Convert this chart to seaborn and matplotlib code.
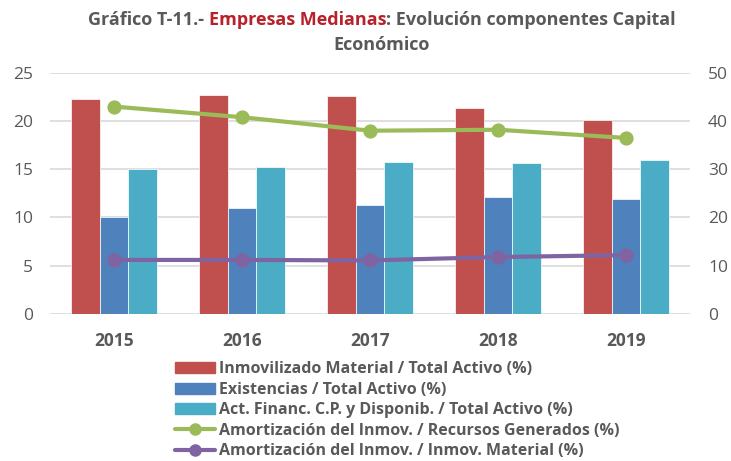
import matplotlib
matplotlib.use("Agg")
import matplotlib.pyplot as plt
import matplotlib.patches as mpatches
import matplotlib.lines as mlines
import seaborn as sns
import pandas as pd

# data
years = ["2015", "2016", "2017", "2018", "2019"]
inmovilizado = [22.3, 22.7, 22.6, 21.4, 20.1]
existencias = [10.1, 11.0, 11.3, 12.1, 11.9]
act_financ = [15.0, 15.2, 15.8, 15.6, 16.0]
amort_recursos = [43.0, 40.8, 38.0, 38.2, 36.5]
amort_inmov = [11.2, 11.2, 11.1, 11.8, 12.2]

bar_labels = [
    "Inmovilizado Material / Total Activo (%)",
    "Existencias / Total Activo (%)",
    "Act. Financ. C.P. y Disponib. / Total Activo (%)",
]
line_labels = [
    "Amortización del Inmov. / Recursos Generados (%)",
    "Amortización del Inmov. / Inmov. Material (%)",
]
bar_colors = ["#C0504D", "#4F81BD", "#4BACC6"]
line_colors = ["#9BBB59", "#8064A2"]
grey = "#595959"

bars = pd.DataFrame({"year": years * 3,
                     "serie": [l for l in bar_labels for _ in years],
                     "value": inmovilizado + existencias + act_financ})
lines = pd.DataFrame({"year": years * 2,
                      "serie": [l for l in line_labels for _ in years],
                      "value": amort_recursos + amort_inmov})

sns.set_style("white")
plt.rcParams["font.family"] = ["Open Sans", "DejaVu Sans"]

fig = plt.figure(figsize=(7.31, 4.61), dpi=100)
ax = fig.add_axes([0.0684, 0.319, 0.8756, 0.523])

sns.barplot(data=bars, x="year", y="value", hue="serie", palette=bar_colors,
            saturation=1, width=0.67, gap=0, edgecolor="white", linewidth=0.5,
            ax=ax, legend=False)
ax.set_ylim(0, 25)
ax.set_yticks(range(0, 26, 5))
ax.set_xlim(-0.5, 4.5)

ax2 = ax.twinx()
sns.pointplot(data=lines, x="year", y="value", hue="serie", palette=line_colors,
              markers="o", markersize=8, linewidth=3, ax=ax2, legend=False)
ax2.set_ylim(0, 50)
ax2.set_yticks(range(0, 51, 10))
ax2.set_xlim(-0.5, 4.5)

ax.set_axisbelow(True)
ax.yaxis.grid(True, color="#D9D9D9", linewidth=1.2)
for a in (ax, ax2):
    a.set_xlabel("")
    a.set_ylabel("")
    for s in a.spines.values():
        s.set_visible(False)
    a.tick_params(length=0, colors=grey, labelsize=12.5)
ax.tick_params(axis="y", pad=12)
ax2.tick_params(axis="y", pad=13)
ax.tick_params(axis="x", pad=13)
for t in ax.get_xticklabels():
    t.set_fontweight("bold")
    t.set_fontsize(12.5)

# legend
handles = [mpatches.Patch(color=c, label=l) for c, l in zip(bar_colors, bar_labels)]
handles += [mlines.Line2D([], [], color=c, lw=3, marker="o", markersize=8, label=l)
            for c, l in zip(line_colors, line_labels)]
leg = fig.legend(handles=handles, loc="upper left", bbox_to_anchor=(0.239, 0.216),
                 frameon=False, fontsize=11.5, handlelength=2.5, handleheight=0.7,
                 handletextpad=0.25, labelspacing=0.28, borderpad=0, borderaxespad=0)
for t in leg.get_texts():
    t.set_color(grey)
    t.set_fontweight("bold")

# title with coloured part
pieces = [("Gráfico T-11.- ", grey), ("Empresas Medianas", "#B8202B"),
          (": Evolución componentes Capital", grey)]
title_x = 382 / 731
fig.canvas.draw()
r = fig.canvas.get_renderer()
txts = [fig.text(0, 0.957, s, color=c, fontsize=13, fontweight="bold", va="center")
        for s, c in pieces]
widths = [t.get_window_extent(r).width / fig.bbox.width for t in txts]
x = title_x - sum(widths) / 2
for t, w in zip(txts, widths):
    t.set_x(x)
    x += w
fig.text(title_x, 0.903, "Económico", color=grey, fontsize=13, fontweight="bold",
         ha="center", va="center")

fig.savefig("out.png", dpi=100)
